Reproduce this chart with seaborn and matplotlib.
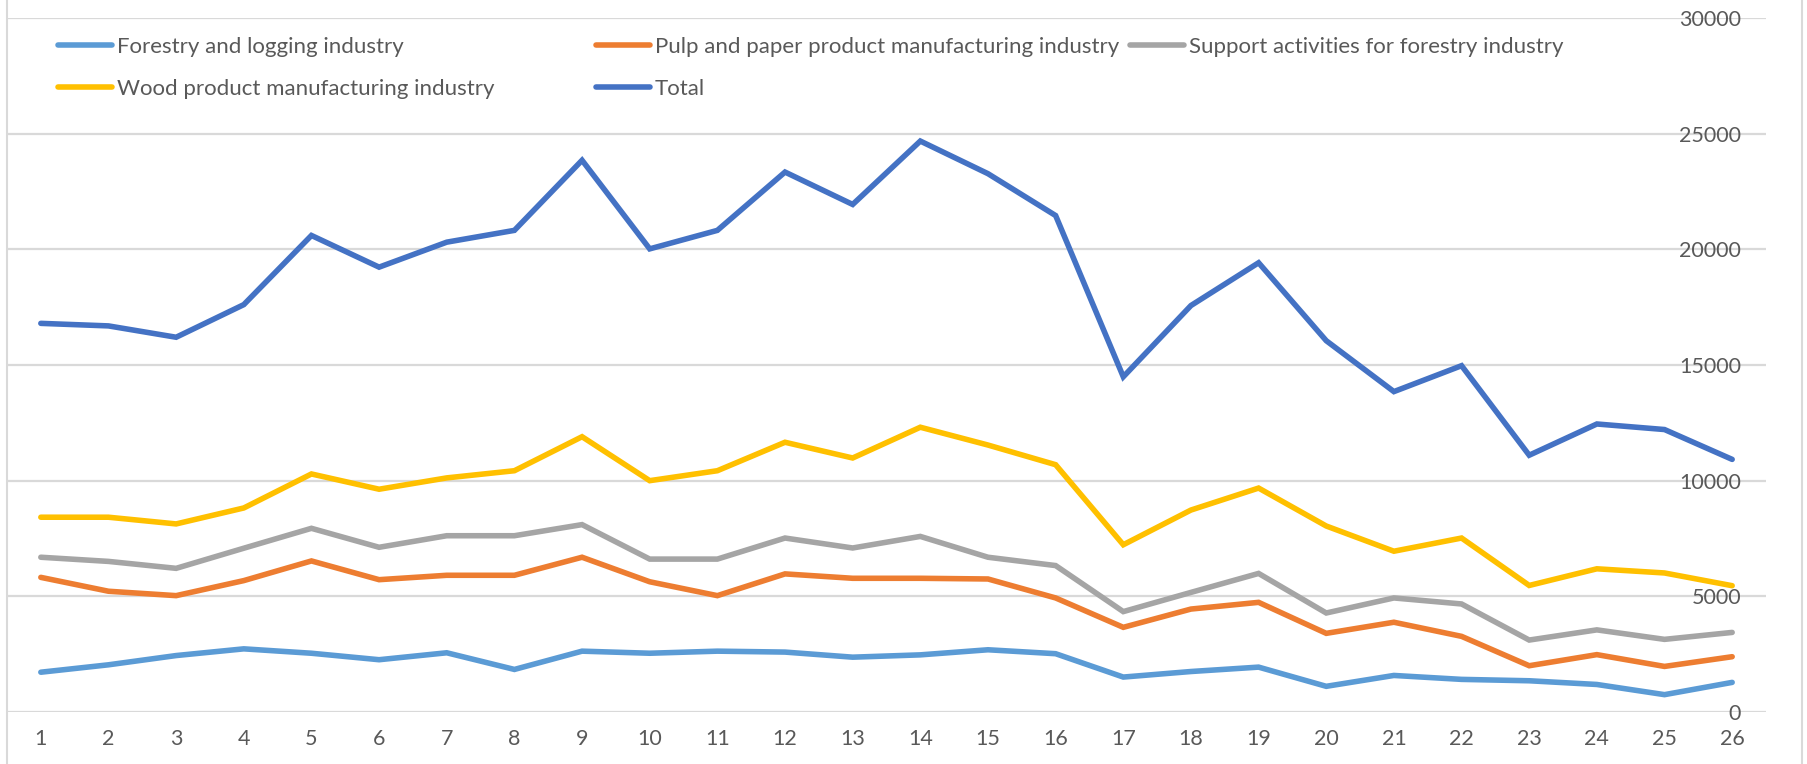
import pandas as pd
import matplotlib.pyplot as plt
from matplotlib.lines import Line2D
import seaborn as sns

# values
periods = list(range(1, 27))
forestry = [1720, 2040, 2440, 2730, 2540, 2260, 2560, 1840, 2630, 2540, 2630, 2590, 2370,
            2470, 2690, 2520, 1510, 1750, 1940, 1110, 1580, 1410, 1350, 1190, 750, 1280]
pulp = [5820, 5220, 5030, 5680, 6530, 5720, 5910, 5910, 6690, 5630, 5030, 5970, 5780,
        5780, 5750, 4930, 3660, 4450, 4740, 3400, 3880, 3270, 2000, 2480, 1970, 2390]
support = [6690, 6510, 6210, 7080, 7940, 7120, 7620, 7620, 8100, 6610, 6610, 7520, 7090,
           7590, 6690, 6330, 4340, 5170, 5990, 4280, 4930, 4670, 3110, 3550, 3140, 3440]
wood = [8420, 8420, 8130, 8820, 10290, 9630, 10120, 10430, 11900, 10000, 10430, 11660, 10980,
        12310, 11540, 10690, 7230, 8730, 9680, 8040, 6950, 7520, 5470, 6190, 6010, 5460]
total = [16800, 16690, 16200, 17610, 20600, 19230, 20310, 20820, 23850, 20020, 20820, 23340, 21940,
         24680, 23270, 21460, 14490, 17570, 19420, 16050, 13850, 14970, 11100, 12450, 12210, 10920]

series_names = ['Forestry and logging industry',
                'Pulp and paper product manufacturing industry',
                'Support activities for forestry industry',
                'Wood product manufacturing industry',
                'Total']
colors = ['#5B9BD5', '#ED7D31', '#A5A5A5', '#FFC000', '#4472C4']
y_ticks = [0, 5000, 10000, 15000, 20000, 25000, 30000]

# long-form table for seaborn
frames = []
for name, vals in zip(series_names, [forestry, pulp, support, wood, total]):
    frames.append(pd.DataFrame({'Period': periods, 'Value': vals, 'Series': name}))
df = pd.concat(frames, ignore_index=True)

sns.set_style("white")
plt.rcParams['font.family'] = ['Lato', 'DejaVu Sans']

fig = plt.figure(figsize=(18.07, 7.64), dpi=100)
ax = fig.add_axes([7 / 1807, 52 / 764, (1766 - 7) / 1807, (712 - 18) / 764])

palette = dict(zip(series_names, colors))
sns.lineplot(data=df, x='Period', y='Value', hue='Series', hue_order=series_names,
             palette=palette, linewidth=4.0, legend=False, ax=ax,
             solid_capstyle='round', solid_joinstyle='miter')

ax.set_xlim(0.5, 26.5)
ax.set_ylim(0, 30000)
ax.set_xticks(periods)
ax.set_yticks(y_ticks)
ax.set_xlabel('')
ax.set_ylabel('')

# gridlines and spines like the spreadsheet chart
ax.grid(axis='y', color='#D9D9D9', linewidth=1.6)
ax.set_axisbelow(True)
for side in ['top', 'right', 'left', 'bottom']:
    ax.spines[side].set_visible(False)

# y labels sit inside the plot on the right
ax.yaxis.tick_right()
ax.tick_params(axis='y', length=0, pad=-18, labelsize=15.5, labelcolor='#595959')
ax.tick_params(axis='x', length=0, pad=12, labelsize=15.5, labelcolor='#595959')
plt.setp(ax.get_yticklabels(), ha='right')

# legend entries placed in a 3-column grid like the original
col_x = [58, 596, 1130]
row_y = [47, 89]
for i, (name, col) in enumerate(zip(series_names, colors)):
    r, c = divmod(i, 3)
    h = Line2D([0], [0], color=col, linewidth=4.0, solid_capstyle='round')
    leg = fig.legend([h], [name], loc='center left',
                     bbox_to_anchor=(col_x[c] / 1807, 1 - row_y[r] / 764),
                     frameon=False, borderpad=0, borderaxespad=0,
                     handlelength=2.45, handletextpad=0.2, fontsize=16)
    for t in leg.get_texts():
        t.set_color('#595959')

# chart border lines on the left and right
fig.add_artist(Line2D([7 / 1807, 7 / 1807], [0, 1], color='#D9D9D9', linewidth=1.5))
fig.add_artist(Line2D([1802 / 1807, 1802 / 1807], [0, 1], color='#D9D9D9', linewidth=1.5))

fig.savefig('out.png', dpi=100)
